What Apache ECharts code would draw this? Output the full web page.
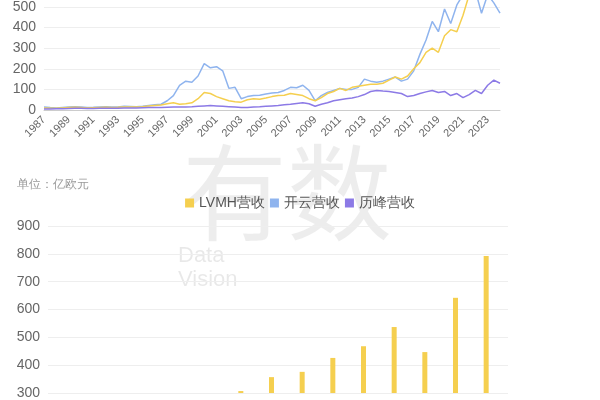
<!DOCTYPE html><html><head><meta charset="utf-8"><script src="https://cdn.jsdelivr.net/npm/echarts@6/dist/echarts.min.js"></script>
<style>html,body{margin:0;padding:0;background:#fff}#c{width:600px;height:400px}</style></head><body><div id="c"></div><script>
const kering=[15,12,10,12,14,16,15,12,13,15,16,14,15,18,17,16,18,22,25,28,45,70,120,140,135,165,225,205,210,190,105,110,55,65,70,72,78,82,85,95,110,108,120,95,45,70,85,95,105,100,100,110,150,140,135,140,150,160,140,150,190,270,340,430,380,490,420,510,560,620,580,470,560,520,470];
const lvmh=[10,9,8,10,12,13,12,10,11,12,13,12,13,15,15,14,16,20,22,24,30,35,28,30,35,55,85,80,65,55,45,40,38,50,55,52,58,65,70,72,80,75,70,55,45,60,80,90,105,95,110,115,120,125,125,130,145,160,150,165,200,230,280,300,280,360,390,380,460,560,600,620,800,780,700];
const hermes=[5,5,6,6,7,8,8,7,7,8,8,8,9,10,10,10,11,12,12,12,13,14,14,15,16,18,20,22,20,18,16,14,12,12,15,16,18,20,22,25,28,32,35,30,18,28,35,45,50,55,58,65,75,90,95,92,90,85,80,65,70,80,88,95,85,90,70,80,60,75,95,80,120,145,130];
const dates=[];for(let y=1987;y<=2024;y++){dates.push(y+'-01');if(y<2024)dates.push(y+'-07');}
const barYears=['2008','2009','2010','2011','2012','2013','2014','2015','2016','2017','2018','2019','2020','2021','2022'];
const barLvmh=[172,171,203,237,282,291,307,357,376,426,468,537,447,642,792];
const barKering=[201,166,146,122,97,97,100,115,124,154,137,159,131,176,204];
const barHermes=[19,19,24,28,35,38,41,48,52,55,60,69,64,90,116];
const C=['#f5cf4f','#8fb4ee','#8c7ae6'];
const ch=echarts.init(document.getElementById('c'));
const lab={color:'#666',fontSize:14};
ch.setOption({animation:false,
graphic:[
{type:'text',left:17,top:179,style:{text:'单位：亿欧元',fill:'#999',fontSize:12}},
{type:'text',left:182,top:140,z:-1,style:{text:'有数',fill:'rgba(0,0,0,0.07)',fontSize:105,fontFamily:'Noto Sans CJK SC'}},
{type:'text',left:178,top:244,z:-1,style:{text:'Data\nVision',fill:'rgba(0,0,0,0.09)',fontSize:22,lineHeight:24,align:'center'}}],
legend:{top:191,left:'center',icon:'rect',itemWidth:9,itemHeight:9,itemGap:5,textStyle:{color:'#555',fontSize:14},data:['LVMH营收','开云营收','历峰营收']},
grid:[{left:44,right:100,top:7,bottom:290},{left:48,right:92,top:226,bottom:0}],
xAxis:[{gridIndex:0,type:'category',data:dates,boundaryGap:false,axisTick:{show:false},axisLine:{lineStyle:{color:'#ccc'}},
 axisLabel:{interval:3,rotate:45,color:'#666',fontSize:11,formatter:v=>v.slice(0,4)}},
 {gridIndex:1,type:'category',data:barYears,axisLabel:{show:false},axisTick:{show:false},axisLine:{show:false}}],
yAxis:[{gridIndex:0,min:0,max:500,interval:100,axisLabel:lab,splitLine:{lineStyle:{color:'#eee'}}},
 {gridIndex:1,min:300,max:900,interval:100,axisLabel:lab,splitLine:{lineStyle:{color:'#eee'}}}],
series:[
{name:'开云营收',type:'line',clip:false,data:kering,showSymbol:false,lineStyle:{width:1.5},color:C[1],xAxisIndex:0,yAxisIndex:0},
{name:'LVMH营收',type:'line',clip:false,data:lvmh,showSymbol:false,lineStyle:{width:1.5},color:C[0],xAxisIndex:0,yAxisIndex:0},
{name:'历峰营收',type:'line',clip:false,data:hermes,showSymbol:false,lineStyle:{width:1.5},color:C[2],xAxisIndex:0,yAxisIndex:0},
{name:'LVMH营收',type:'bar',data:barLvmh,barWidth:5,barGap:'30%',color:C[0],xAxisIndex:1,yAxisIndex:1},
{name:'开云营收',type:'bar',data:barKering,barWidth:5,color:C[1],xAxisIndex:1,yAxisIndex:1},
{name:'历峰营收',type:'bar',data:barHermes,barWidth:5,color:C[2],xAxisIndex:1,yAxisIndex:1}]});
</script></body></html>
